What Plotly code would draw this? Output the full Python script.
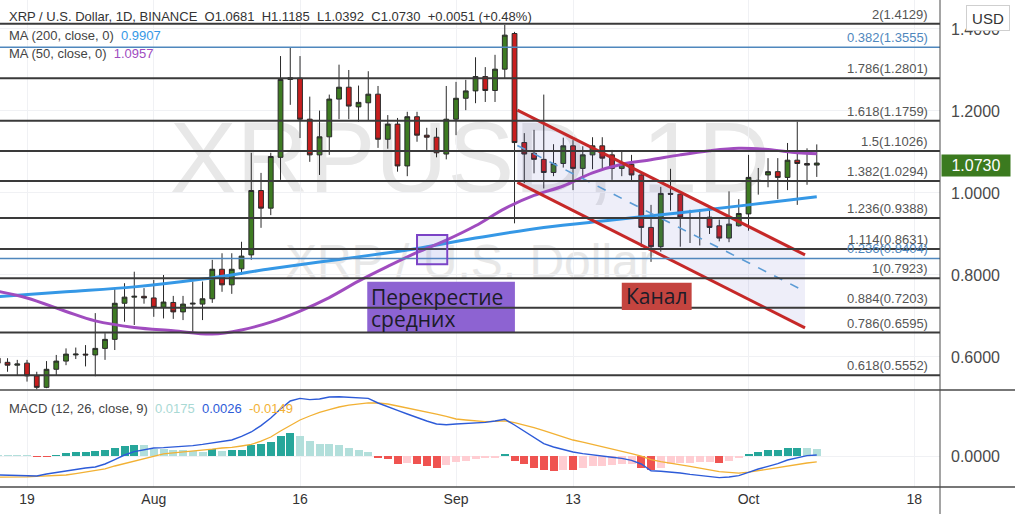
import plotly.graph_objects as go
import pandas as pd

# ---------------- data ----------------
dates = pd.date_range("2021-07-16", periods=85, freq="D")

open_ = [0.597, 0.587, 0.580, 0.585, 0.554, 0.526, 0.570, 0.590, 0.605, 0.607,
         0.605, 0.621, 0.643, 0.731, 0.746, 0.748, 0.744, 0.721, 0.733, 0.710,
         0.729, 0.729, 0.742, 0.814, 0.776, 0.815, 0.849, 1.006, 0.963, 1.087,
         1.277, 1.280, 1.180, 1.093, 1.137, 1.229, 1.258, 1.210, 1.220, 1.241,
         1.131, 1.168, 1.066, 1.186, 1.141, 1.136, 1.095, 1.180, 1.231, 1.249,
         1.284, 1.250, 1.302, 1.389, 1.123, 1.097, 1.082, 1.050, 1.072, 1.115,
         1.060, 1.093, 1.115, 1.093, 1.060, 1.070, 1.044, 0.916, 0.869, 0.999,
         0.997, 0.940, 0.938, 0.941, 0.920, 0.890, 0.920, 0.949, 1.031, 1.044,
         1.052, 1.038, 1.080, 1.072, 1.0681]
high = [0.612, 0.597, 0.593, 0.593, 0.564, 0.590, 0.605, 0.621, 0.623, 0.629,
        0.707, 0.658, 0.768, 0.780, 0.808, 0.768, 0.788, 0.800, 0.749, 0.749,
        0.784, 0.784, 0.837, 0.853, 0.853, 0.881, 1.098, 1.049, 1.098, 1.334,
        1.354, 1.334, 1.235, 1.201, 1.240, 1.313, 1.300, 1.262, 1.297, 1.261,
        1.190, 1.183, 1.198, 1.198, 1.159, 1.159, 1.261, 1.271, 1.276, 1.331,
        1.307, 1.337, 1.410, 1.393, 1.146, 1.154, 1.240, 1.119, 1.135, 1.129,
        1.114, 1.136, 1.136, 1.105, 1.101, 1.093, 1.052, 0.971, 1.015, 1.059,
        0.999, 0.959, 0.961, 0.967, 0.935, 1.004, 0.985, 1.093, 1.061, 1.085,
        1.085, 1.122, 1.174, 1.109, 1.1185]
low = [0.578, 0.564, 0.556, 0.540, 0.521, 0.524, 0.556, 0.580, 0.595, 0.577,
       0.553, 0.593, 0.617, 0.686, 0.678, 0.730, 0.698, 0.694, 0.693, 0.690,
       0.658, 0.690, 0.732, 0.759, 0.754, 0.800, 0.837, 0.915, 0.946, 1.032,
       1.215, 1.134, 1.076, 1.044, 1.093, 1.180, 1.180, 1.174, 1.178, 1.110,
       1.108, 1.052, 1.041, 1.125, 1.105, 1.087, 1.082, 1.141, 1.202, 1.219,
       1.222, 1.222, 1.280, 0.926, 1.024, 1.048, 1.011, 1.041, 1.062, 1.007,
       1.036, 1.058, 1.060, 1.032, 1.041, 1.028, 0.868, 0.832, 0.857, 0.957,
       0.869, 0.878, 0.872, 0.900, 0.882, 0.880, 0.918, 0.908, 0.996, 1.014,
       0.985, 1.007, 0.971, 1.020, 1.0392]
close = [0.585, 0.580, 0.583, 0.554, 0.526, 0.570, 0.590, 0.607, 0.607, 0.605,
         0.621, 0.643, 0.731, 0.746, 0.748, 0.744, 0.721, 0.734, 0.710, 0.729,
         0.731, 0.742, 0.814, 0.776, 0.814, 0.846, 1.006, 0.963, 1.089, 1.277,
         1.281, 1.180, 1.093, 1.137, 1.229, 1.258, 1.212, 1.221, 1.241, 1.131,
         1.168, 1.066, 1.186, 1.141, 1.136, 1.098, 1.180, 1.231, 1.249, 1.284,
         1.250, 1.302, 1.385, 1.123, 1.095, 1.082, 1.050, 1.072, 1.115, 1.060,
         1.093, 1.115, 1.085, 1.060, 1.070, 1.044, 0.916, 0.869, 0.999, 0.997,
         0.941, 0.938, 0.939, 0.916, 0.890, 0.924, 0.950, 1.038, 1.030, 1.052,
         1.038, 1.080, 1.072, 1.068, 1.0730]

ma200_dates = ["2021-07-16", "2021-07-23", "2021-07-30", "2021-08-06", "2021-08-13",
               "2021-08-20", "2021-08-27", "2021-09-03", "2021-09-10", "2021-09-17",
               "2021-09-24", "2021-10-01", "2021-10-08"]
ma200_vals = [0.747, 0.759, 0.771, 0.790, 0.815, 0.838, 0.861, 0.890, 0.916, 0.934,
              0.952, 0.971, 0.9907]

ma50_dates = ["2021-07-16", "2021-07-19", "2021-07-23", "2021-07-26", "2021-07-30",
              "2021-08-03", "2021-08-07", "2021-08-10", "2021-08-13", "2021-08-16",
              "2021-08-19", "2021-08-22", "2021-08-25", "2021-08-28", "2021-08-31",
              "2021-09-03", "2021-09-06", "2021-09-09", "2021-09-12", "2021-09-15",
              "2021-09-18", "2021-09-21", "2021-09-24", "2021-09-27", "2021-09-30",
              "2021-10-03", "2021-10-06", "2021-10-08"]
ma50_vals = [0.760, 0.744, 0.711, 0.688, 0.672, 0.664, 0.656, 0.666, 0.685, 0.712,
             0.745, 0.785, 0.821, 0.855, 0.885, 0.920, 0.962, 0.994, 1.017, 1.049,
             1.070, 1.081, 1.093, 1.103, 1.109, 1.106, 1.098, 1.0957]

macd_line = [-0.0475, -0.048, -0.049, -0.050, -0.050, -0.045, -0.041, -0.0375, -0.034, -0.030,
             -0.0275, -0.020, -0.009, 0.0025, 0.011, 0.016,
             0.020, 0.021, 0.0225, 0.023, 0.026, 0.029, 0.033, 0.036, 0.040, 0.049,
             0.060, 0.076, 0.095, 0.1175, 0.1375, 0.144, 0.141, 0.1425, 0.1475, 0.148,
             0.147, 0.1455, 0.144, 0.1325, 0.124, 0.114, 0.105, 0.096, 0.0875, 0.080, 0.078,
             0.080, 0.081, 0.0825, 0.084, 0.0875, 0.092, 0.0775, 0.0625, 0.046, 0.031,
             0.0225, 0.016, 0.010, 0.006, 0.0025, -0.001, -0.003, -0.006, -0.011, -0.020,
             -0.037, -0.038, -0.0395, -0.0425, -0.046, -0.049, -0.051, -0.054, -0.0525, -0.049,
             -0.041, -0.0325, -0.026, -0.019, -0.010, -0.004, 0.001, 0.0026]
signal_line = [-0.053, -0.053, -0.0525, -0.052, -0.051, -0.050, -0.049, -0.0475, -0.044, -0.040,
               -0.037, -0.032, -0.025, -0.019, -0.013, -0.006,
               0.000, 0.0055, 0.008, 0.010, 0.012, 0.014, 0.017, 0.020, 0.0215, 0.025,
               0.029, 0.037, 0.0475, 0.0625, 0.076, 0.090, 0.100, 0.109, 0.116, 0.1225,
               0.127, 0.1305, 0.133, 0.1325, 0.130, 0.125, 0.120, 0.116, 0.110, 0.1045, 0.099,
               0.0925, 0.090, 0.088, 0.086, 0.0868, 0.088, 0.0835, 0.0775, 0.071, 0.0635,
               0.0555, 0.0475, 0.040, 0.0345, 0.029, 0.024, 0.018, 0.012, 0.006, -0.0005,
               -0.009, -0.014, -0.0175, -0.022, -0.026, -0.0305, -0.035, -0.039, -0.041, -0.043,
               -0.0405, -0.0365, -0.0325, -0.028, -0.025, -0.021, -0.0175, -0.0149]
macd_hist = [0.002, 0.0015, 0.001, 0.0005, -0.001, -0.0015, 0.0008, 0.008, 0.010, 0.0105,
             0.0125, 0.015, 0.021, 0.025, 0.0275, 0.027,
             0.0175, 0.017, 0.016, 0.015, 0.0125, 0.011, 0.0167, 0.0125, 0.015, 0.0155,
             0.0267, 0.029, 0.036, 0.051, 0.058, 0.051, 0.038, 0.031, 0.029, 0.0285,
             0.020, 0.014, 0.010, -0.003, -0.007, -0.021, -0.017, -0.020, -0.024, -0.029, -0.0225,
             -0.014, -0.012, -0.0075, -0.006, -0.004, 0.005, -0.012, -0.020, -0.029, -0.036,
             -0.037, -0.035, -0.036, -0.029, -0.026, -0.024, -0.023, -0.020, -0.019, -0.029,
             -0.035, -0.029, -0.020, -0.018, -0.017, -0.016, -0.015, -0.0165, -0.012, -0.006,
             0.004, 0.010, 0.015, 0.0155, 0.020, 0.0205, 0.019, 0.0175]

fib_levels = ["2", "1.786", "1.618", "1.5", "1.382", "1.236", "1.114", "1", "0.884", "0.786", "0.618"]
fib_prices = [1.4129, 1.2801, 1.1759, 1.1026, 1.0294, 0.9388, 0.8631, 0.7923, 0.7203, 0.6595, 0.5552]
blue_levels = ["0.382", "0.236"]
blue_prices = [1.3555, 0.8404]

chan_dates = ["2021-09-07T07:00", "2021-10-06T19:00"]
chan_upper = [1.202, 0.849]
chan_lower = [1.026, 0.671]
chan_mid = [1.116, 0.760]

x_tick_dates = ["2021-07-19", "2021-08-01", "2021-08-16", "2021-09-01", "2021-09-13", "2021-10-01", "2021-10-18"]
x_tick_text = ["19", "Aug", "16", "Sep", "13", "Oct", "18"]
price_ticks = [0.6, 0.8, 1.0, 1.2, 1.4]
price_tick_text = ["0.6000", "0.8000", "1.0000", "1.2000", "1.4000"]

last_price = 1.0730

# ---------------- styles ----------------
GREEN = "#3e7b22"
RED = "#c81e1e"
WICK = "#2a2a2a"
MA200_C = "#3598e6"
MA50_C = "#a04cbf"
CH_RED = "#c62828"
FIB_C = "#3a3a3a"
FIB_BLUE = "#4f87bd"
GRID = "#f0f1f4"
FONT = "Liberation Sans"

fig = go.Figure()

# channel fill polygon
fig.add_trace(go.Scatter(
    x=[chan_dates[0], chan_dates[1], chan_dates[1], chan_dates[0], chan_dates[0]],
    y=[chan_upper[0], chan_upper[1], chan_lower[1], chan_lower[0], chan_upper[0]],
    fill="toself", fillcolor="rgba(90,90,200,0.10)", line=dict(width=0),
    mode="lines", hoverinfo="skip", xaxis="x", yaxis="y"))

fig.add_trace(go.Candlestick(
    x=dates, open=open_, high=high, low=low, close=close,
    increasing=dict(fillcolor=GREEN, line=dict(color=WICK, width=1)),
    decreasing=dict(fillcolor=RED, line=dict(color=WICK, width=1)),
    whiskerwidth=0, xaxis="x", yaxis="y"))

fig.add_trace(go.Scatter(x=ma200_dates, y=ma200_vals, mode="lines",
                         line=dict(color=MA200_C, width=3, shape="spline"), xaxis="x", yaxis="y"))
fig.add_trace(go.Scatter(x=ma50_dates, y=ma50_vals, mode="lines",
                         line=dict(color=MA50_C, width=3, shape="spline"), xaxis="x", yaxis="y"))

# channel lines
fig.add_trace(go.Scatter(x=chan_dates, y=chan_mid, mode="lines",
                         line=dict(color="#5b9bd5", width=1.6, dash="dash"), xaxis="x", yaxis="y"))
fig.add_trace(go.Scatter(x=chan_dates, y=chan_upper, mode="lines",
                         line=dict(color=CH_RED, width=3), xaxis="x", yaxis="y"))
fig.add_trace(go.Scatter(x=chan_dates, y=chan_lower, mode="lines",
                         line=dict(color=CH_RED, width=3), xaxis="x", yaxis="y"))

# MACD histogram colours (TradingView rule)
hist_colors = []
for i, v in enumerate(macd_hist):
    rising = i > 0 and v > macd_hist[i - 1]
    if v >= 0:
        hist_colors.append("#26a69a" if rising else "#b2dfdb")
    else:
        hist_colors.append("#ffcdd2" if rising else "#ef5350")

fig.add_trace(go.Bar(x=dates, y=macd_hist, marker=dict(color=hist_colors, line=dict(width=0)),
                     width=0.82 * 86400000, xaxis="x", yaxis="y2"))
fig.add_trace(go.Scatter(x=dates, y=signal_line, mode="lines",
                         line=dict(color="#f2b134", width=1.3), xaxis="x", yaxis="y2"))
fig.add_trace(go.Scatter(x=dates, y=macd_line, mode="lines",
                         line=dict(color="#2d5bd8", width=1.4), xaxis="x", yaxis="y2"))

# ---------------- shapes ----------------
shapes = []
# watermarks (below traces)
shapes.append(dict(type="rect", xref="x", yref="y", layer="below",
                   x0="2021-08-20T10:00", x1="2021-09-15T10:00", y0=1.05, y1=1.17,
                   line=dict(width=0), fillcolor="rgba(0,0,0,0)",
                   label=dict(text="XRPUSD, 1D", textposition="middle center",
                              font=dict(size=100, color="#e8e8e8", family=FONT))))
shapes.append(dict(type="rect", xref="x", yref="y", layer="below",
                   x0="2021-08-20T10:00", x1="2021-09-15T10:00", y0=0.805, y1=0.885,
                   line=dict(width=0), fillcolor="rgba(0,0,0,0)",
                   label=dict(text="XRP / U.S. Dollar", textposition="middle center",
                              font=dict(size=48, color="#e8e8e8", family=FONT))))
# purple label box (under the fib lines)
shapes.append(dict(type="rect", xref="x", yref="y", x0="2021-08-22T21:30", x1="2021-09-07T01:00",
                   y0=0.6602, y1=0.7837, line=dict(width=0), fillcolor="#8d63d2"))
for p in fib_prices:
    shapes.append(dict(type="line", xref="paper", yref="y", x0=0, x1=1, y0=p, y1=p,
                       line=dict(color=FIB_C, width=2)))
for p in blue_prices:
    shapes.append(dict(type="line", xref="paper", yref="y", x0=0, x1=1, y0=p, y1=p,
                       line=dict(color=FIB_BLUE, width=1.6)))
# Канал box
shapes.append(dict(type="rect", xref="x", yref="y", x0="2021-09-18T00:00", x1="2021-09-25T04:00",
                   y0=0.7146, y1=0.7812, line=dict(width=0), fillcolor="#c4443f"))
# crossover square
shapes.append(dict(type="rect", xref="x", yref="y", x0="2021-08-28T00:00", x1="2021-08-31T02:30",
                   y0=0.8261, y1=0.8976, line=dict(color="#7b43c6", width=2),
                   fillcolor="rgba(120,130,220,0.18)"))
# pane separators and borders
sep_y = (487 - 390) / 487
shapes.append(dict(type="line", xref="paper", yref="paper", x0=0, x1=1015 / 940, y0=sep_y, y1=sep_y,
                   line=dict(color="#4a4a4a", width=1.5)))
shapes.append(dict(type="line", xref="paper", yref="paper", x0=0, x1=1015 / 940, y0=0, y1=0,
                   line=dict(color="#4a4a4a", width=1.5)))
shapes.append(dict(type="line", xref="paper", yref="paper", x0=1, x1=1, y0=-27 / 487, y1=1,
                   line=dict(color="#4a4a4a", width=1)))

# ---------------- annotations ----------------
ann = []
for lvl, p in zip(fib_levels, fib_prices):
    ann.append(dict(x=930 / 940, xref="paper", y=p, yref="y", xanchor="right", yanchor="bottom",
                    text=f"{lvl}({p:.4f})", showarrow=False, yshift=0,
                    font=dict(size=13, color="#555555", family=FONT)))
for lvl, p in zip(blue_levels, blue_prices):
    ann.append(dict(x=930 / 940, xref="paper", y=p, yref="y", xanchor="right", yanchor="bottom",
                    text=f"{lvl}({p:.4f})", showarrow=False, yshift=0,
                    font=dict(size=13, color=FIB_BLUE, family=FONT)))

ann.append(dict(x="2021-08-23T02:00", xref="x", y=0.7475, yref="y", xanchor="left", yanchor="middle",
                text="Перекрестие", showarrow=False,
                font=dict(size=21, color="#1c1c28", family="Open Sans")))
ann.append(dict(x="2021-08-23T02:00", xref="x", y=0.6915, yref="y", xanchor="left", yanchor="middle",
                text="средних", showarrow=False,
                font=dict(size=21, color="#1c1c28", family="Open Sans")))
ann.append(dict(x="2021-09-21T14:00", xref="x", y=0.749, yref="y", xanchor="center", yanchor="middle",
                text="Канал", showarrow=False,
                font=dict(size=21, color="#1c1c28", family="Open Sans")))

ann.append(dict(x=7 / 940, xref="paper", y=1 - 16 / 487, yref="paper", xanchor="left", yanchor="middle",
                text="XRP / U.S. Dollar, 1D, BINANCE  O1.0681  H1.1185  L1.0392  C1.0730  +0.0051 (+0.48%)",
                showarrow=False, font=dict(size=13, color="#333333", family=FONT)))
ann.append(dict(x=7 / 940, xref="paper", y=1 - 35 / 487, yref="paper", xanchor="left", yanchor="middle",
                text="MA (200, close, 0)  <span style='color:#3598e6'>0.9907</span>",
                showarrow=False, font=dict(size=13, color="#444444", family=FONT)))
ann.append(dict(x=7 / 940, xref="paper", y=1 - 54 / 487, yref="paper", xanchor="left", yanchor="middle",
                text="MA (50, close, 0)  <span style='color:#a04cbf'>1.0957</span>",
                showarrow=False, font=dict(size=13, color="#444444", family=FONT)))
ann.append(dict(x=7 / 940, xref="paper", y=1 - 408 / 487, yref="paper", xanchor="left", yanchor="middle",
                text="MACD (12, 26, close, 9)  <span style='color:#a9d9d4'>0.0175</span>  "
                     "<span style='color:#2d5bd8'>0.0026</span>  <span style='color:#f2b134'>-0.0149</span>",
                showarrow=False, font=dict(size=13, color="#444444", family=FONT)))

# current price tag
ann.append(dict(x=1.0, xref="paper", y=last_price, yref="y", xanchor="left", yanchor="middle",
                text=f"{last_price:.4f}", showarrow=False, bgcolor="#3b7a1f", width=66, height=19,
                xshift=1, yshift=-2, font=dict(size=16, color="white", family=FONT)))
# USD box
ann.append(dict(x=987.5 / 940, xref="paper", y=1 - 18.5 / 487, yref="paper", xanchor="center",
                yanchor="middle", text="USD", showarrow=False, bgcolor="white",
                bordercolor="#cfcfcf", borderwidth=1, width=40, height=22,
                font=dict(size=15, color="#333333", family=FONT)))

fig.update_layout(
    width=1015, height=514,
    margin=dict(l=0, r=75, t=0, b=27),
    paper_bgcolor="white", plot_bgcolor="white",
    showlegend=False,
    font=dict(family=FONT),
    bargap=0,
    xaxis=dict(type="date", range=["2021-07-16T05:30", "2021-10-20T15:20"],
               tickvals=x_tick_dates, ticktext=x_tick_text,
               showgrid=True, gridcolor=GRID, zeroline=False, showline=False, ticks="",
               anchor="y2", rangeslider=dict(visible=False),
               tickfont=dict(size=14, color="#333333"), ticklabelstandoff=2),
    yaxis=dict(domain=[(487 - 390) / 487, 1], range=[0.5195, 1.4707], side="right", anchor="x",
               tickvals=price_ticks, ticktext=price_tick_text, showgrid=True, gridcolor=GRID,
               zeroline=False, showline=False, ticks="", ticklabelstandoff=10,
               tickfont=dict(size=16, color="#4a4a4a")),
    yaxis2=dict(domain=[0, (487 - 391) / 487], range=[-0.0775, 0.1625], side="right", anchor="x",
                tickvals=[0], ticktext=["0.0000"], showgrid=True, gridcolor=GRID,
                zeroline=False, showline=False, ticks="", ticklabelstandoff=10,
                tickfont=dict(size=16, color="#4a4a4a")),
    shapes=shapes,
    annotations=ann,
)

fig.write_html("out.html", config={"displayModeBar": False},
               post_script="document.body.style.margin='0';")
